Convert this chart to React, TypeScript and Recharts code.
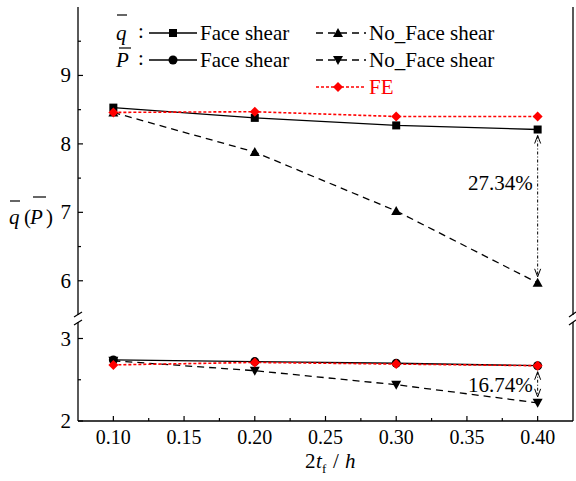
import React from 'react'
import { LineChart, Line, XAxis, YAxis, ReferenceLine, ReferenceDot } from 'recharts'

// 2t_f / h
const thickness = [0.1, 0.2, 0.3, 0.4]

// q-bar (upper panel)
const qFaceShear = [8.53, 8.38, 8.27, 8.21]
const qNoFaceShear = [8.46, 7.88, 7.02, 5.97]
const qFE = [8.46, 8.47, 8.4, 8.4]

// P-bar (lower panel)
const pFaceShear = [2.74, 2.72, 2.7, 2.67]
const pNoFaceShear = [2.73, 2.61, 2.44, 2.22]
const pFE = [2.68, 2.71, 2.69, 2.67]

const xTicks = [0.1, 0.125, 0.15, 0.175, 0.2, 0.225, 0.25, 0.275, 0.3, 0.325, 0.35, 0.375, 0.4]
const upperTicks = [6, 6.5, 7, 7.5, 8, 8.5, 9, 9.5]
const lowerTicks = [2, 2.5, 3]

const upperGap = { x: 0.4, from: 8.21, to: 5.97, labelY: 7.43, text: '27.34%' }
const lowerGap = { x: 0.4, from: 2.67, to: 2.22, labelY: 2.44, text: '16.74%' }

const FONT = "'Liberation Serif', 'Times New Roman', serif"
const RED = '#ff0000'

const upperData = thickness.map((x, i) => ({ x, face: qFaceShear[i], noFace: qNoFaceShear[i], fe: qFE[i] }))
const lowerData = thickness.map((x, i) => ({ x, face: pFaceShear[i], noFace: pNoFaceShear[i], fe: pFE[i] }))

const square = (p: any) => <rect key={p.index} x={p.cx - 4} y={p.cy - 4} width={8} height={8} fill="#000" />
const circle = (p: any) => <circle key={p.index} cx={p.cx} cy={p.cy} r={4.5} fill="#000" />
const triUp = (p: any) => (
  <polygon key={p.index} points={`${p.cx - 5},${p.cy + 4} ${p.cx + 5},${p.cy + 4} ${p.cx},${p.cy - 5}`} fill="#000" />
)
const triDown = (p: any) => (
  <polygon key={p.index} points={`${p.cx - 5},${p.cy - 4} ${p.cx + 5},${p.cy - 4} ${p.cx},${p.cy + 5}`} fill="#000" />
)
const diamond = (p: any) => (
  <polygon key={p.index} points={`${p.cx},${p.cy - 5} ${p.cx + 5},${p.cy} ${p.cx},${p.cy + 5} ${p.cx - 5},${p.cy}`} fill={RED} />
)

const YTick = (props: any) => {
  const { x, y, payload } = props
  const major = Number.isInteger(payload.value)
  return (
    <g>
      <line x1={x} x2={x + (major ? 5 : 3)} y1={y} y2={y} stroke="#000" strokeWidth={1.2} />
      {major && (
        <text x={x - 7} y={y} textAnchor="end" dominantBaseline="central" fontSize={21} style={{ fontFamily: FONT }} fill="#000">
          {payload.value}
        </text>
      )}
    </g>
  )
}

const XTick = (props: any) => {
  const { x, y, payload } = props
  const v = payload.value
  const major = Math.abs(v * 20 - Math.round(v * 20)) < 1e-6
  return (
    <g>
      <line x1={x} x2={x} y1={y} y2={y - (major ? 5 : 3)} stroke="#000" strokeWidth={1.2} />
      {major && (
        <text x={x} y={y + 16} textAnchor="middle" dominantBaseline="central" fontSize={20} style={{ fontFamily: FONT }} fill="#000">
          {v.toFixed(2)}
        </text>
      )}
    </g>
  )
}

const GapArrow = (props: any) => {
  const { x1, y1, y2 } = props
  const top = Math.min(y1, y2) + 6
  const bottom = Math.max(y1, y2) - 6
  return (
    <g stroke="#000" strokeWidth={1} fill="none">
      <line x1={x1} x2={x1} y1={top} y2={bottom} strokeDasharray="3 2 1 2" />
      <polyline points={`${x1 - 3},${top + 8} ${x1},${top} ${x1 + 3},${top + 8}`} />
      <polyline points={`${x1 - 3},${bottom - 8} ${x1},${bottom} ${x1 + 3},${bottom - 8}`} />
    </g>
  )
}

const series = (key: 'face' | 'noFace' | 'fe', dot: any) => {
  if (key === 'face') return <Line key={key} dataKey={key} stroke="#000" strokeWidth={1.3} dot={dot} isAnimationActive={false} />
  if (key === 'noFace')
    return <Line key={key} dataKey={key} stroke="#000" strokeWidth={1.3} strokeDasharray="7 5" dot={dot} isAnimationActive={false} />
  return <Line key={key} dataKey={key} stroke={RED} strokeWidth={1.6} strokeDasharray="3 2" dot={dot} isAnimationActive={false} />
}

const gapLabel = (g: typeof upperGap) => (
  <ReferenceDot
    x={g.x}
    y={g.labelY}
    r={0}
    fill="none"
    stroke="none"
    label={{ value: g.text, position: 'left', offset: 5, fontSize: 21, fill: '#000', style: { fontFamily: FONT } }}
  />
)

const axisLine = { stroke: '#000', strokeWidth: 1.3 }

export default function App() {
  return (
    <div style={{ position: 'absolute', left: 0, top: 0, width: 576, height: 481, background: '#fff', fontFamily: FONT }}>
      <div style={{ position: 'absolute', left: 0, top: 0 }}>
        <LineChart width={576} height={318} data={upperData} margin={{ top: 7, right: 0, bottom: 3, left: 0 }}>
          <XAxis
            dataKey="x"
            type="number"
            domain={[0.075, 0.425]}
            orientation="top"
            height={0}
            tick={false}
            tickLine={false}
            axisLine={axisLine}
          />
          <YAxis
            type="number"
            domain={[5.5, 10]}
            ticks={upperTicks}
            width={78}
            tickSize={0}
            tickMargin={0}
            tick={<YTick />}
            axisLine={axisLine}
            allowDataOverflow
          />
          <YAxis yAxisId="r" orientation="right" width={3} tick={false} tickLine={false} axisLine={axisLine} />
          {series('noFace', triUp)}
          {series('face', square)}
          {series('fe', diamond)}
          <ReferenceLine
            segment={[{ x: upperGap.x, y: upperGap.from }, { x: upperGap.x, y: upperGap.to }]}
            shape={GapArrow}
          />
          {gapLabel(upperGap)}
        </LineChart>
      </div>
      <div style={{ position: 'absolute', left: 0, top: 318 }}>
        <LineChart width={576} height={163} data={lowerData} margin={{ top: 4, right: 0, bottom: 0, left: 0 }}>
          <XAxis
            dataKey="x"
            type="number"
            domain={[0.075, 0.425]}
            ticks={xTicks}
            height={60}
            tickSize={0}
            tickMargin={0}
            tick={<XTick />}
            axisLine={axisLine}
            interval={0}
          />
          <YAxis
            type="number"
            domain={[2, 3.2]}
            ticks={lowerTicks}
            width={78}
            tickSize={0}
            tickMargin={0}
            tick={<YTick />}
            axisLine={axisLine}
            allowDataOverflow
          />
          <YAxis yAxisId="r" orientation="right" width={3} tick={false} tickLine={false} axisLine={axisLine} />
          {series('noFace', triDown)}
          {series('face', circle)}
          {series('fe', diamond)}
          <ReferenceLine
            segment={[{ x: lowerGap.x, y: lowerGap.from }, { x: lowerGap.x, y: lowerGap.to }]}
            shape={GapArrow}
          />
          {gapLabel(lowerGap)}
        </LineChart>
      </div>
      <svg
        width={576}
        height={481}
        style={{ position: 'absolute', left: 0, top: 0, pointerEvents: 'none', fontFamily: FONT }}
      >
        {/* axis break marks */}
        <g stroke="#000" strokeWidth={1.2}>
          <line x1={74} y1={317} x2={82} y2={312} />
          <line x1={74} y1={325} x2={82} y2={320} />
          <line x1={569} y1={317} x2={576} y2={312} />
          <line x1={569} y1={325} x2={576} y2={320} />
        </g>

        {/* legend */}
        <g fontSize={21} fill="#000">
          <text x={116} y={33} dominantBaseline="central" fontStyle="italic">q</text>
          <line x1={117} x2={127} y1={15} y2={15} stroke="#000" strokeWidth={1.2} />
          <text x={138} y={31} dominantBaseline="central">:</text>
          <line x1={149} x2={197} y1={33} y2={33} stroke="#000" strokeWidth={1.3} />
          {square({ cx: 173, cy: 33, index: 'l1' })}
          <text x={200} y={33} dominantBaseline="central">Face shear</text>
          <line x1={316} x2={366} y1={33} y2={33} stroke="#000" strokeWidth={1.3} strokeDasharray="7 5" />
          {triUp({ cx: 338, cy: 33, index: 'l2' })}
          <text x={369} y={33} dominantBaseline="central">No_Face shear</text>

          <text x={116} y={60} dominantBaseline="central" fontStyle="italic">P</text>
          <line x1={119} x2={131} y1={48} y2={48} stroke="#000" strokeWidth={1.2} />
          <text x={138} y={58} dominantBaseline="central">:</text>
          <line x1={149} x2={197} y1={60} y2={60} stroke="#000" strokeWidth={1.3} />
          {circle({ cx: 173, cy: 60, index: 'l3' })}
          <text x={200} y={60} dominantBaseline="central">Face shear</text>
          <line x1={316} x2={366} y1={60} y2={60} stroke="#000" strokeWidth={1.3} strokeDasharray="7 5" />
          {triDown({ cx: 338, cy: 60, index: 'l4' })}
          <text x={369} y={60} dominantBaseline="central">No_Face shear</text>

          <line x1={316} x2={366} y1={87} y2={87} stroke={RED} strokeWidth={1.6} strokeDasharray="3 2" />
          {diamond({ cx: 338, cy: 87, index: 'l5' })}
          <text x={369} y={87} dominantBaseline="central" fill={RED}>FE</text>
        </g>

        {/* y axis title */}
        <g fontSize={21} fill="#000">
          <text x={9} y={217} dominantBaseline="central" fontStyle="italic">q</text>
          <text x={24} y={217} dominantBaseline="central">(</text>
          <text x={30} y={217} dominantBaseline="central" fontStyle="italic">P</text>
          <text x={46} y={217} dominantBaseline="central">)</text>
          <line x1={10} x2={20} y1={201} y2={201} stroke="#000" strokeWidth={1.2} />
          <line x1={33} x2={46} y1={197} y2={197} stroke="#000" strokeWidth={1.2} />
        </g>

        {/* x axis title */}
        <g fontSize={21} fill="#000">
          <text x={305} y={468}>2</text>
          <text x={316} y={468} fontStyle="italic">t</text>
          <text x={322} y={473} fontSize={13}>f</text>
          <text x={333} y={468}>/</text>
          <text x={345} y={468} fontStyle="italic">h</text>
        </g>
      </svg>
    </div>
  )
}
